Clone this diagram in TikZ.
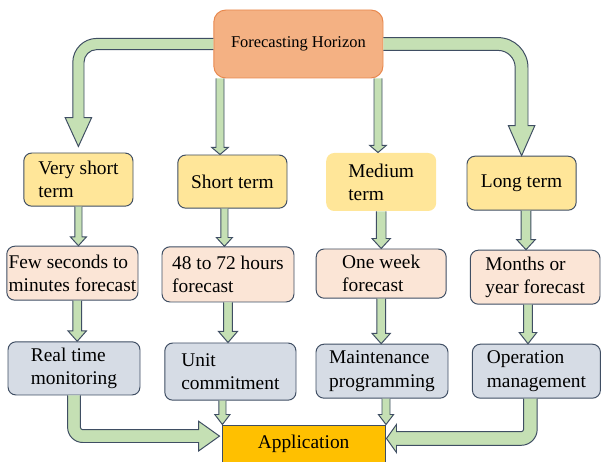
\documentclass[tikz,border=0pt]{standalone}
\usepackage{fontspec}
\setmainfont{Liberation Serif}
\usepackage{tikz}
\usetikzlibrary{calc}

\definecolor{edgecol}{HTML}{3F4E63}
\definecolor{horizoncol}{HTML}{F4B183}
\definecolor{horizonedge}{HTML}{E8894F}
\definecolor{termcol}{HTML}{FFE699}
\definecolor{forecastcol}{HTML}{FBE5D6}
\definecolor{usecol}{HTML}{D6DCE5}
\definecolor{appcol}{HTML}{FFC000}
\definecolor{arrowgreen}{HTML}{C5E0B4}

% straight block arrow: start, tip, shaft half width, head half width, head length
\newcommand{\vblock}[5]{%
  \draw[blockarrow] let \p1=#1, \p2=#2 in
    (\x1-#3,\y1) -- (\x1-#3,\y2+#5) -- (\x1-#4,\y2+#5) -- (\x1,\y2)
    -- (\x1+#4,\y2+#5) -- (\x1+#3,\y2+#5) -- (\x1+#3,\y1);
}

\begin{document}
\begin{tikzpicture}
[box/.style={draw=edgecol,line width=0.7pt,rounded corners=0.2cm,align=left,inner sep=0pt,
   font=\fontsize{13.8}{16.4}\selectfont},
 blockarrow/.style={draw=edgecol,line width=0.7pt,fill=arrowgreen}]
\useasboundingbox (0,0) rectangle (15.025,-11.55);

\node[box,fill=horizoncol,draw=horizonedge,rounded corners=0.3cm,minimum width=4.23cm,minimum height=1.7cm,
  font=\fontsize{11.7}{14}\selectfont] (horizon) at (7.46,-1.10) {Forecasting Horizon};

% horizons
\node[box,fill=termcol,minimum width=2.73cm,minimum height=1.33cm] (vshort) at (1.96,-4.49) {Very short\\term};
\node[box,fill=termcol,minimum width=2.73cm,minimum height=1.33cm] (short) at (5.81,-4.54) {Short term};
\node[box,fill=termcol,draw=none,minimum width=2.75cm,minimum height=1.45cm] (medium) at (9.53,-4.55) {Medium\\term};
\node[box,fill=termcol,minimum width=2.73cm,minimum height=1.35cm] (long) at (13.04,-4.58) {Long term};

% forecast spans
\node[box,fill=forecastcol,minimum width=3.28cm,minimum height=1.35cm] (few) at (1.81,-6.83) {Few seconds to\\minutes forecast};
\node[box,fill=forecastcol,minimum width=3.30cm,minimum height=1.38cm] (hours) at (5.70,-6.86) {48 to 72 hours\\forecast};
\node[box,fill=forecastcol,minimum width=3.25cm,minimum height=1.23cm] (week) at (9.53,-6.84) {One week\\forecast};
\node[box,fill=forecastcol,minimum width=3.24cm,minimum height=1.35cm] (months) at (13.38,-6.93) {Months or\\year forecast};

% uses
\node[box,fill=usecol,minimum width=3.30cm,minimum height=1.33cm] (realtime) at (1.85,-9.21) {Real time\\monitoring};
\node[box,fill=usecol,minimum width=3.28cm,minimum height=1.43cm] (unit) at (5.76,-9.29) {Unit\\commitment};
\node[box,fill=usecol,minimum width=3.30cm,minimum height=1.35cm] (maint) at (9.55,-9.28) {Maintenance\\programming};
\node[box,fill=usecol,minimum width=3.20cm,minimum height=1.35cm] (operation) at (13.41,-9.28) {Operation\\management};

\node[box,fill=appcol,rounded corners=0pt,minimum width=4.08cm,minimum height=0.96cm,align=center] (app) at (7.59,-11.105) {Application};

% big bent arrows
\draw[blockarrow] let \p1=(horizon.west), \p2=(vshort.north) in
  (\x1,\y1+0.14cm) -- (\x2+0.46cm,\y1+0.14cm) arc[start angle=90,end angle=180,radius=0.6cm]
  -- (\x2-0.14cm,\y2+0.87cm) -- (\x2-0.33cm,\y2+0.87cm) -- (\x2,\y2+0.15cm) -- (\x2+0.33cm,\y2+0.87cm)
  -- (\x2+0.14cm,\y2+0.87cm) -- (\x2+0.14cm,\y1-0.46cm) arc[start angle=180,end angle=90,radius=0.32cm]
  -- (\x1,\y1-0.14cm);
\draw[blockarrow] let \p1=(horizon.east), \p2=(long.north) in
  (\x1,\y1+0.16cm) -- (\x2-0.59cm,\y1+0.16cm) arc[start angle=90,end angle=0,radius=0.75cm]
  -- (\x2+0.16cm,\y2+0.75cm) -- (\x2+0.33cm,\y2+0.75cm) -- (\x2,\y2) -- (\x2-0.33cm,\y2+0.75cm)
  -- (\x2-0.16cm,\y2+0.75cm) -- (\x2-0.16cm,\y1-0.59cm) arc[start angle=0,end angle=90,radius=0.43cm]
  -- (\x1,\y1-0.16cm);
\draw[blockarrow] let \p1=(realtime.south), \p2=(app.north west) in
  (\x1-0.16cm,\y1) -- (\x1-0.16cm,\y2-0.07cm) arc[start angle=180,end angle=270,radius=0.38cm]
  -- (\x2-0.57cm,\y2-0.45cm) -- (\x2-0.57cm,\y2-0.66cm) -- (\x2-0.05cm,\y2-0.29cm) -- (\x2-0.57cm,\y2+0.08cm)
  -- (\x2-0.57cm,\y2-0.13cm) -- (\x1+0.22cm,\y2-0.13cm) arc[start angle=270,end angle=180,radius=0.06cm]
  -- (\x1+0.16cm,\y1);
\draw[blockarrow] let \p1=([xshift=-0.15cm]operation.south), \p2=(app.north east) in
  (\x1+0.17cm,\y1) -- (\x1+0.17cm,\y2-0.12cm) arc[start angle=0,end angle=-90,radius=0.4cm]
  -- (\x2+0.27cm,\y2-0.52cm) -- (\x2+0.27cm,\y2-0.7cm) -- (\x2+0.02cm,\y2-0.35cm) -- (\x2+0.27cm,\y2)
  -- (\x2+0.27cm,\y2-0.18cm) -- (\x1-0.23cm,\y2-0.18cm) arc[start angle=-90,end angle=0,radius=0.06cm]
  -- (\x1-0.17cm,\y1);

% thin arrows
\vblock{([xshift=-1.96cm]horizon.south)}{(short.north)}{0.1cm}{0.21cm}{0.18cm}
\vblock{([xshift=1.99cm]horizon.south)}{(medium.north)}{0.1cm}{0.21cm}{0.18cm}

\vblock{(vshort.south)}{(few.north)}{0.09cm}{0.2cm}{0.22cm}
\vblock{([xshift=-0.2cm]short.south)}{(hours.north)}{0.09cm}{0.2cm}{0.22cm}
\vblock{(medium.south)}{(week.north)}{0.12cm}{0.23cm}{0.25cm}
\vblock{([xshift=0.11cm]long.south)}{(months.north)}{0.12cm}{0.23cm}{0.25cm}

\vblock{([xshift=0.12cm]few.south)}{(realtime.north)}{0.11cm}{0.23cm}{0.26cm}
\vblock{(hours.south)}{(unit.north)}{0.11cm}{0.24cm}{0.28cm}
\vblock{(week.south)}{(maint.north)}{0.11cm}{0.23cm}{0.26cm}
\vblock{([xshift=-0.18cm]months.south)}{(operation.north)}{0.11cm}{0.22cm}{0.28cm}

\vblock{([xshift=-0.2cm]unit.south)}{(app.north)}{0.09cm}{0.19cm}{0.25cm}
\vblock{([xshift=0.1cm]maint.south)}{(app.north)}{0.1cm}{0.19cm}{0.25cm}

\end{tikzpicture}
\end{document}
